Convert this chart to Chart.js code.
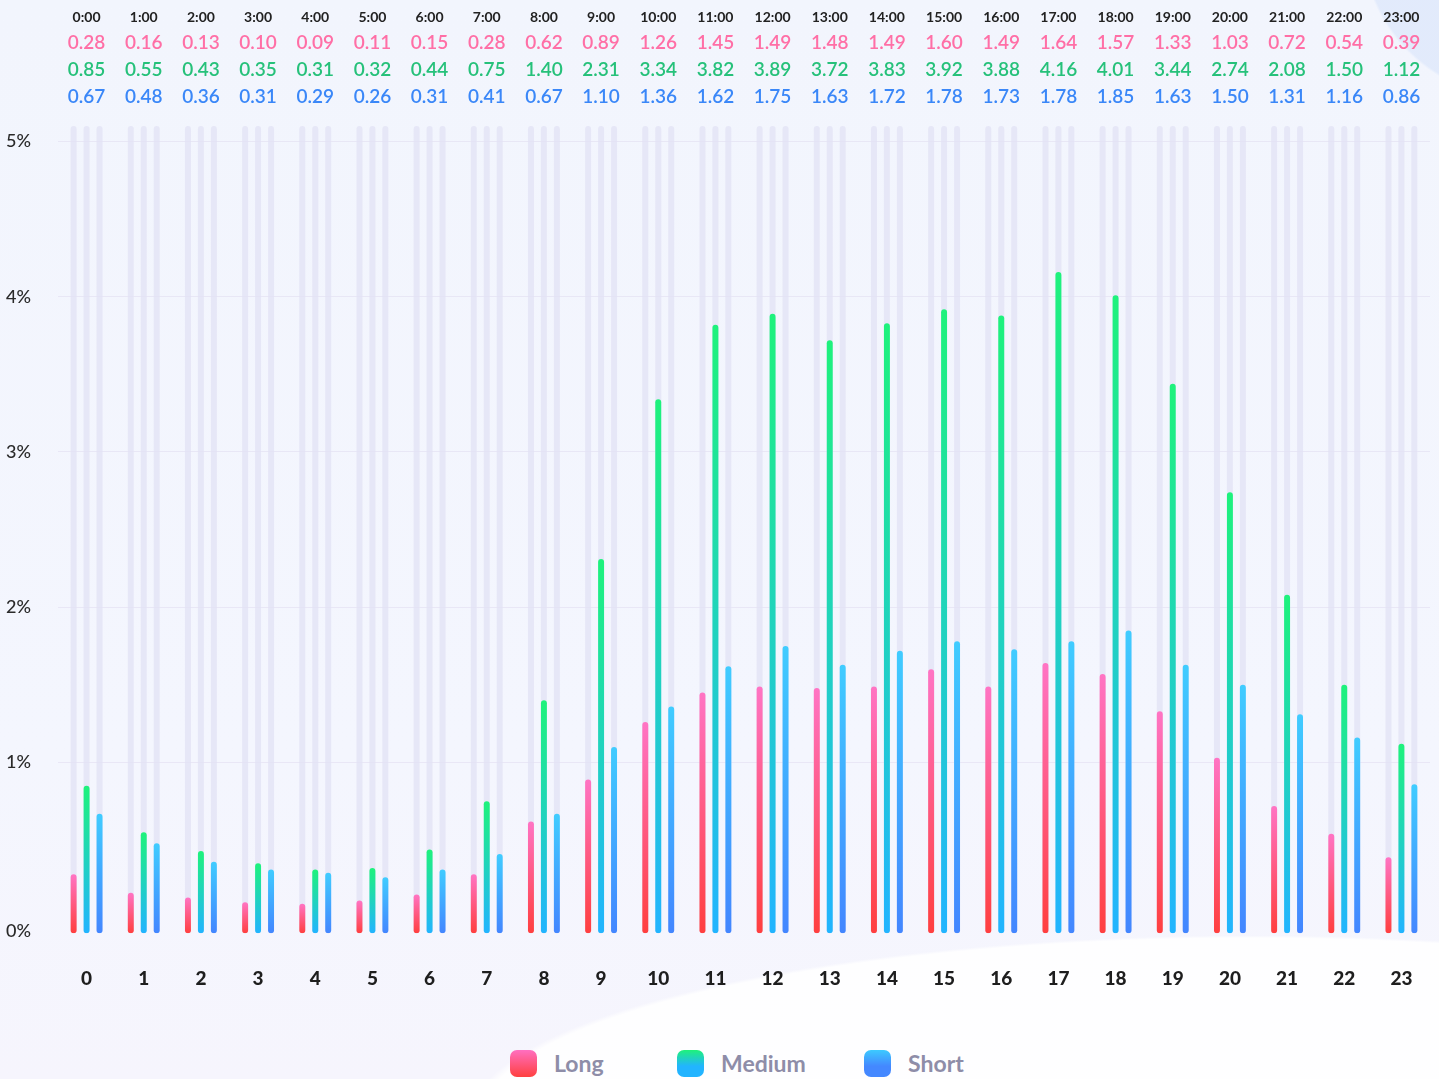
<!doctype html>
<html lang="en">
<head>
<meta charset="utf-8">
<title>Hourly distribution</title>
<script src="https://cdn.jsdelivr.net/npm/chart.js@4.4.1/dist/chart.umd.min.js"></script>
<style>
  html, body { margin: 0; padding: 0; }
  body {
    width: 1439px; height: 1079px; overflow: hidden; position: relative;
    font-family: Lato, "Noto Sans", sans-serif;
    background:
      radial-gradient(ellipse 1100px 260px at 1250px 1120px, rgba(255,255,255,0.95) 0%, rgba(255,255,255,0.9) 70%, rgba(255,255,255,0) 71%),
      radial-gradient(circle 260px at 1520px -60px, rgba(222,232,251,0.8) 0%, rgba(222,232,251,0.8) 60%, rgba(222,232,251,0) 61%),
      linear-gradient(180deg, #f2f5fd 0%, #f4f6fe 70%, #f6f5fd 100%);
  }
  #wrap { position: absolute; left: 0; top: 0; }
  .leg { position: absolute; top: 1049px; display: flex; align-items: center; font-size: 23px; font-weight: 700; color: #8e8da8; }
  .leg i { display: inline-block; width: 27px; height: 27px; border-radius: 7px; margin-right: 17px; }
</style>
</head>
<body>
<div id="wrap"><canvas id="myChart" width="1439" height="990"></canvas></div>
<div class="leg" style="left:510px"><i style="background:linear-gradient(#ff6fc0,#ff4040)"></i>Long</div>
<div class="leg" style="left:677px"><i style="background:linear-gradient(#1ff27a,#22b4ff 60%)"></i>Medium</div>
<div class="leg" style="left:864px"><i style="background:linear-gradient(#3ccaff,#4488ff 60%)"></i>Short</div>
<script>
var hours = ["0","1","2","3","4","5","6","7","8","9","10","11","12","13","14","15","16","17","18","19","20","21","22","23"];
var hourLabels = ["0:00","1:00","2:00","3:00","4:00","5:00","6:00","7:00","8:00","9:00","10:00","11:00","12:00","13:00","14:00","15:00","16:00","17:00","18:00","19:00","20:00","21:00","22:00","23:00"];
var longData   = [0.28,0.16,0.13,0.10,0.09,0.11,0.15,0.28,0.62,0.89,1.26,1.45,1.49,1.48,1.49,1.60,1.49,1.64,1.57,1.33,1.03,0.72,0.54,0.39];
var mediumData = [0.85,0.55,0.43,0.35,0.31,0.32,0.44,0.75,1.40,2.31,3.34,3.82,3.89,3.72,3.83,3.92,3.88,4.16,4.01,3.44,2.74,2.08,1.50,1.12];
var shortData  = [0.67,0.48,0.36,0.31,0.29,0.26,0.31,0.41,0.67,1.10,1.36,1.62,1.75,1.63,1.72,1.78,1.73,1.78,1.85,1.63,1.50,1.31,1.16,0.86];
var yTicks = [1, 2, 3, 4, 5];

var BASE = -0.1;   // bars start a little below the 0 line
var TOP = 5.1;

let barGradient = (top, bottom) => {
    return (c) => {
        let chart = c.chart;
        let y = chart.scales.y;
        if (!chart.chartArea || c.type !== 'data' || !y) return bottom;
        let y0 = y.getPixelForValue(c.raw);
        let y1 = y.getPixelForValue(BASE);
        if (!isFinite(y0) || !isFinite(y1) || y1 - y0 < 1) return bottom;
        let g = chart.ctx.createLinearGradient(0, y0, 0, y1);
        g.addColorStop(0, top);
        g.addColorStop(1, bottom);
        return g;
    };
};

// light grey tracks behind every bar
let trackPlugin = {
    id: 'tracks',
    beforeDatasetsDraw(chart) {
        let ctx = chart.ctx;
        let y = chart.scales.y;
        let yTop = y.getPixelForValue(TOP);
        let yBot = y.getPixelForValue(BASE);
        ctx.save();
        ctx.fillStyle = 'rgba(226,226,244,0.75)';
        chart.data.datasets.forEach((ds, i) => {
            chart.getDatasetMeta(i).data.forEach(el => {
                let w = el.width;
                ctx.beginPath();
                ctx.roundRect(el.x - w / 2, yTop, w, yBot - yTop, w / 2);
                ctx.fill();
            });
        });
        ctx.restore();
    }
};

// hour / value table above the plot
let headerPlugin = {
    id: 'header',
    afterDraw(chart) {
        let ctx = chart.ctx;
        let x = chart.scales.x;
        ctx.save();
        ctx.textAlign = 'center';
        ctx.textBaseline = 'middle';
        hourLabels.forEach((h, i) => {
            let px = x.getPixelForValue(i);
            ctx.font = 'bold 14px Lato';
            ctx.fillStyle = '#222';
            ctx.fillText(h, px, 17);
            ctx.font = '600 19px Lato';
            ctx.fillStyle = '#ff6fa6';
            ctx.fillText(longData[i].toFixed(2), px, 43);
            ctx.fillStyle = '#26c17a';
            ctx.fillText(mediumData[i].toFixed(2), px, 70);
            ctx.fillStyle = '#3a87f8';
            ctx.fillText(shortData[i].toFixed(2), px, 97);
        });
        ctx.restore();
    }
};

let barOpts = {
    base: BASE,
    borderRadius: 3,
    borderSkipped: false,
    categoryPercentage: 0.68,
    barPercentage: 0.46
};

new Chart(document.getElementById('myChart'), {
    type: 'bar',
    data: {
        labels: hours,
        datasets: [
            Object.assign({ label: 'Long', data: longData, backgroundColor: barGradient('#ff74c4', '#ff3f3f') }, barOpts),
            Object.assign({ label: 'Medium', data: mediumData, backgroundColor: barGradient('#1ef27c', '#22b4ff') }, barOpts),
            Object.assign({ label: 'Short', data: shortData, backgroundColor: barGradient('#40ccff', '#4386ff') }, barOpts)
        ]
    },
    options: {
        responsive: false,
        animation: false,
        layout: { padding: { top: 126, right: 9, left: 6, bottom: 0 } },
        plugins: { legend: { display: false }, tooltip: { enabled: false } },
        scales: {
            x: {
                grid: { drawOnChartArea: false, drawTicks: true, tickLength: 34, color: 'rgba(0,0,0,0)' },
                border: { display: false },
                ticks: { color: '#1e1e1e', font: { family: 'Lato', size: 19, weight: '900' }, padding: 0 }
            },
            y: {
                min: BASE,
                max: TOP,
                afterBuildTicks: (scale) => {
                    scale.ticks = [{ value: -0.085 }].concat(yTicks.map(v => ({ value: v })));
                },
                afterFit: (scale) => { scale.width = 52; },
                grid: {
                    drawTicks: false,
                    color: (c) => c.tick && c.tick.value < 0.5 ? 'rgba(0,0,0,0)' : 'rgba(225,222,240,0.6)'
                },
                border: { display: false },
                ticks: {
                    crossAlign: 'far',
                    color: '#2a2a2a',
                    font: { family: 'Lato', size: 18, weight: '500' },
                    callback: (v) => (v < 0.5 ? 0 : v) + '%'
                }
            }
        }
    },
    plugins: [trackPlugin, headerPlugin]
});
</script>
</body>
</html>
